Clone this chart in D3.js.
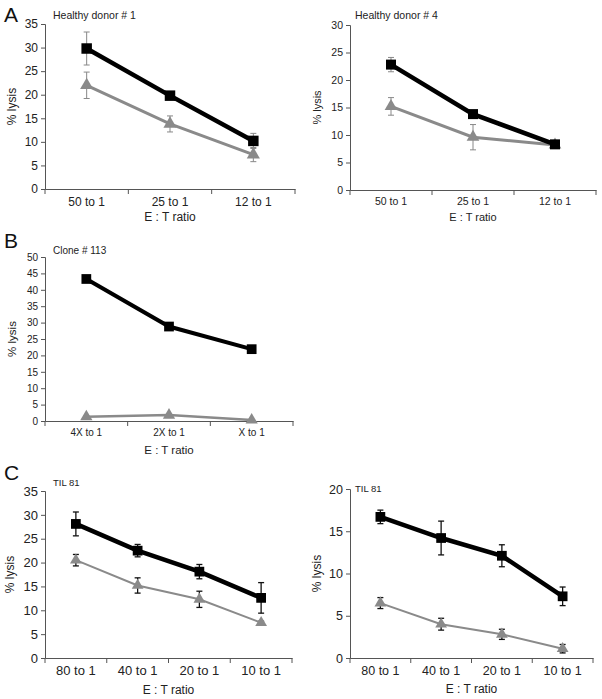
<!DOCTYPE html>
<html>
<head>
<meta charset="utf-8">
<script src="https://cdn.jsdelivr.net/npm/d3@7"></script>
<style>
  body { margin: 0; background: #fff; }
  svg { font-family: "Liberation Sans", Arial, sans-serif; }
</style>
</head>
<body>
<div id="chart"></div>
<script>
// categories
var etCats = ['50 to 1', '25 to 1', '12 to 1'];
var cloneCats = ['4X to 1', '2X to 1', 'X to 1'];
var tilCats = ['80 to 1', '40 to 1', '20 to 1', '10 to 1'];

// A: healthy donor #1
var donor1Black = [29.8, 19.8, 10.2];
var donor1BlackErr = [3.5, 0.6, 1.6];
var donor1Gray = [22.0, 13.8, 7.3];
var donor1GrayErr = [2.8, 1.7, 1.5];
var donor1Ticks = [0, 5, 10, 15, 20, 25, 30, 35];

// A: healthy donor #4
var donor4Black = [22.8, 13.8, 8.3];
var donor4BlackErr = [1.3, 0.5, 0.6];
var donor4Gray = [15.2, 9.6, 8.2];
var donor4GrayErr = [1.6, 2.3, 0.5];
var donor4Ticks = [0, 5, 10, 15, 20, 25, 30];

// B: clone #113
var cloneBlack = [43.3, 28.8, 21.9];
var cloneGray = [1.3, 1.8, 0.3];
var cloneTicks = [0, 5, 10, 15, 20, 25, 30, 35, 40, 45, 50];

// C: TIL 81 (left)
var tilLBlack = [28.1, 22.5, 18.1, 12.6];
var tilLBlackErr = [2.5, 1.3, 1.5, 3.2];
var tilLGray = [20.5, 15.2, 12.3, 7.4];
var tilLGrayErr = [1.2, 1.6, 1.7, 0.3];
var tilLTicks = [0, 5, 10, 15, 20, 25, 30, 35];

// C: TIL 81 (right)
var tilRBlack = [16.7, 14.2, 12.1, 7.3];
var tilRBlackErr = [0.8, 2.0, 1.3, 1.1];
var tilRGray = [6.5, 4.0, 2.8, 1.1];
var tilRGrayErr = [0.65, 0.7, 0.6, 0.5];
var tilRTicks = [0, 5, 10, 15, 20];

var svg = d3.select('#chart').append('svg').attr('width', 602).attr('height', 699);

function drawPanel(p) {
    var g = svg.append('g');
    var x = d3.scaleBand().domain(p.cats).range([p.left, p.right]);
    var y = d3.scaleLinear().domain([0, p.ticks[p.ticks.length - 1]]).range([p.bottom, p.top]);
    var axisColor = '#555';

    // y axis
    var ya = g.append('g').attr('transform', 'translate(' + p.left + ',0)')
        .call(d3.axisLeft(y).tickValues(p.ticks).tickSize(4).tickPadding(3));
    ya.selectAll('text').style('font-size', p.tickFont + 'px').attr('fill', '#222');

    // x axis, ticks between categories
    var xa = g.append('g').attr('transform', 'translate(0,' + p.bottom + ')')
        .call(d3.axisBottom(x).tickSize(0).tickPadding(8));
    xa.selectAll('text').style('font-size', p.tickFont + 'px').attr('fill', '#222');
    var bounds = p.cats.map(function (c) { return x(c); }).concat([x.range()[1]]);
    xa.selectAll('line.bound').data(bounds).enter().append('line')
        .attr('x1', function (d) { return d; }).attr('x2', function (d) { return d; })
        .attr('y1', 0).attr('y2', 5).attr('stroke', axisColor);
    g.selectAll('.domain, .tick line').attr('stroke', axisColor);

    // labels
    g.append('text').attr('transform', 'translate(' + p.yLabelX + ',' + ((p.top + p.bottom) / 2) + ') rotate(-90)')
        .attr('text-anchor', 'middle').attr('dy', '0.35em')
        .style('font-size', p.labelFont + 'px').attr('fill', '#222').text('% lysis');
    g.append('text').attr('x', (p.left + p.right) / 2).attr('y', p.xLabelY)
        .attr('text-anchor', 'middle').style('font-size', p.labelFont + 'px').attr('fill', '#222')
        .text('E : T ratio');
    g.append('text').attr('x', p.titleX).attr('y', p.titleY)
        .style('font-size', p.titleFont + 'px').attr('fill', '#222').text(p.title);
    if (p.letter) {
        g.append('text').attr('x', 4).attr('y', p.letterY)
            .style('font-size', '21px').attr('fill', '#111').text(p.letter);
    }

    var cx = function (d, i) { return x(p.cats[i]) + x.bandwidth() / 2; };

    p.series.forEach(function (s) {
        var pts = s.values.map(function (v, i) { return { v: v, e: s.err ? s.err[i] : 0, i: i }; });

        // error bars
        if (s.err) {
            var eb = g.append('g').attr('stroke', p.errColor).attr('stroke-width', p.errWidth);
            pts.forEach(function (d) {
                var xc = cx(d, d.i);
                eb.append('line').attr('x1', xc).attr('x2', xc).attr('y1', y(d.v + d.e)).attr('y2', y(d.v - d.e));
                eb.append('line').attr('x1', xc - 3).attr('x2', xc + 3).attr('y1', y(d.v + d.e)).attr('y2', y(d.v + d.e));
                eb.append('line').attr('x1', xc - 3).attr('x2', xc + 3).attr('y1', y(d.v - d.e)).attr('y2', y(d.v - d.e));
            });
        }

        var line = d3.line().x(function (d) { return cx(d, d.i); }).y(function (d) { return y(d.v); });
        g.append('path').datum(pts).attr('d', line).attr('fill', 'none')
            .attr('stroke', s.color).attr('stroke-width', s.width);

        var sym = d3.symbol().type(s.shape === 'square' ? d3.symbolSquare : d3.symbolTriangle).size(s.size);
        g.selectAll(null).data(pts).enter().append('path')
            .attr('d', sym)
            .attr('transform', function (d) { return 'translate(' + cx(d, d.i) + ',' + y(d.v) + ')'; })
            .attr('fill', s.color);
    });
}

var black = '#000', gray = '#8a8a8a';

drawPanel({
    cats: etCats, ticks: donor1Ticks, left: 45, right: 295, top: 24, bottom: 189,
    tickFont: 12, labelFont: 12, titleFont: 10.5, yLabelX: 12, xLabelY: 221,
    title: 'Healthy donor # 1', titleX: 53, titleY: 19, letter: 'A', letterY: 22,
    errColor: '#888', errWidth: 1,
    series: [
        { values: donor1Gray, err: donor1GrayErr, color: gray, width: 3, shape: 'tri', size: 75 },
        { values: donor1Black, err: donor1BlackErr, color: black, width: 4.5, shape: 'square', size: 110 }
    ]
});

drawPanel({
    cats: etCats, ticks: donor4Ticks, left: 350, right: 596, top: 25, bottom: 190,
    tickFont: 10.5, labelFont: 11, titleFont: 10.5, yLabelX: 317, xLabelY: 221,
    title: 'Healthy donor # 4', titleX: 355, titleY: 19,
    errColor: '#888', errWidth: 1,
    series: [
        { values: donor4Gray, err: donor4GrayErr, color: gray, width: 3, shape: 'tri', size: 70 },
        { values: donor4Black, err: donor4BlackErr, color: black, width: 4.5, shape: 'square', size: 100 }
    ]
});

drawPanel({
    cats: cloneCats, ticks: cloneTicks, left: 45, right: 293, top: 257, bottom: 421,
    tickFont: 10, labelFont: 11.5, titleFont: 10, yLabelX: 12, xLabelY: 454,
    title: 'Clone # 113', titleX: 53, titleY: 254, letter: 'B', letterY: 248,
    errColor: '#888', errWidth: 1,
    series: [
        { values: cloneGray, color: gray, width: 2.5, shape: 'tri', size: 65 },
        { values: cloneBlack, color: black, width: 4, shape: 'square', size: 95 }
    ]
});

drawPanel({
    cats: tilCats, ticks: tilLTicks, left: 45, right: 292, top: 491, bottom: 658,
    tickFont: 13, labelFont: 12, titleFont: 9.5, yLabelX: 10, xLabelY: 694,
    title: 'TIL 81', titleX: 53, titleY: 486, letter: 'C', letterY: 480,
    errColor: '#111', errWidth: 1.3,
    series: [
        { values: tilLGray, err: tilLGrayErr, color: gray, width: 2, shape: 'tri', size: 60 },
        { values: tilLBlack, err: tilLBlackErr, color: black, width: 4.5, shape: 'square', size: 95 }
    ]
});

drawPanel({
    cats: tilCats, ticks: tilRTicks, left: 350, right: 593, top: 489, bottom: 658,
    tickFont: 12.5, labelFont: 12, titleFont: 9.5, yLabelX: 317, xLabelY: 693,
    title: 'TIL 81', titleX: 355, titleY: 492,
    errColor: '#111', errWidth: 1.3,
    series: [
        { values: tilRGray, err: tilRGrayErr, color: gray, width: 2, shape: 'tri', size: 60 },
        { values: tilRBlack, err: tilRBlackErr, color: black, width: 4.5, shape: 'square', size: 95 }
    ]
});
</script>
</body>
</html>
